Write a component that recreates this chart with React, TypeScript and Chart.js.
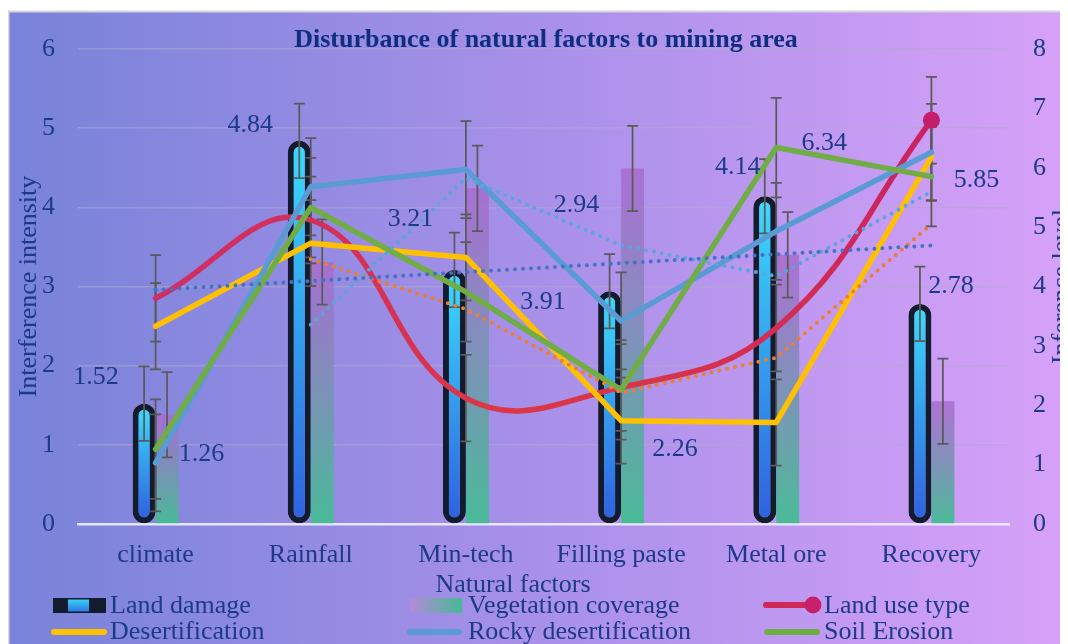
import { useEffect, useRef } from 'react';
import { Chart, registerables } from 'chart.js';

Chart.register(...registerables);

// ---- data ----
const categories = ['climate', 'Rainfall', 'Min-tech', 'Filling paste', 'Metal ore', 'Recovery'];
const seriesNames = ['Land damage', 'Vegetation coverage', 'Land use type', 'Desertification', 'Rocky desertification', 'Soil Erosion'];

// bars, left axis (Interference intensity)
const landDamage = [1.52, 4.84, 3.21, 2.94, 4.14, 2.78];
const vegetationCoverage = [1.38, 3.31, 4.24, 4.49, 3.4, 1.55];

// lines, right axis (Inference level)
const landUseType = [3.8, 5.12, 2.12, 2.3, 3.3, 6.8];
const desertification = [3.33, 4.73, 4.49, 1.74, 1.71, 6.18];
const rockyDesertification = [1.03, 5.68, 5.97, 3.42, 4.93, 6.26];
const soilErosion = [1.26, 5.33, 3.91, 2.26, 6.34, 5.85];

const intensityTicks = [0, 1, 2, 3, 4, 5, 6];
const levelTicks = [0, 1, 2, 3, 4, 5, 6, 7, 8];

// ---- label placement (pixel offsets from the mark) ----
const landDamageLabelOffsets: ([number, number] | null)[] = [[-48, -29], [-49, -18], [-44, -53], [-33, -88], [-27, -31], [31, -20]];
const soilErosionLabelOffsets: ([number, number] | null)[] = [[46, 3], null, [77, 8], [54, 57], [48, -7], [45, 1]];

// ---- helpers ----
const mean = (v: number[]) => v.reduce((a, b) => a + b, 0) / v.length;
const standardError = (v: number[]) => {
  const m = mean(v);
  const sd = Math.sqrt(v.reduce((a, b) => a + (b - m) ** 2, 0) / (v.length - 1));
  return sd / Math.sqrt(v.length);
};
const movingAverage = (v: number[], period: number) =>
  v.map((_, i) => (i < period - 1 ? null : mean(v.slice(i - period + 1, i + 1))));
const linearTrend = (v: number[]) => {
  const xs = v.map((_, i) => i + 1);
  const mx = mean(xs);
  const my = mean(v);
  let sxy = 0;
  let sxx = 0;
  xs.forEach((x, i) => {
    sxy += (x - mx) * (v[i] - my);
    sxx += (x - mx) ** 2;
  });
  const b = sxy / sxx;
  const a = my - b * mx;
  return xs.map((x) => a + b * x);
};

const serif = '"Liberation Serif", "Times New Roman", serif';
const textColor = '#1D3A87';
const titleColor = '#0E2E7F';
const errorColor = '#5A5A5A';
const darkBar = '#131B2E';

const verticalBarFill = (top: string, bottom: string, inset: number) => (ctx: any) => {
  const chart = ctx.chart;
  const scale = chart.scales && chart.scales.y;
  if (!scale || ctx.type !== 'data' || typeof ctx.raw !== 'number') return bottom;
  const yTop = scale.getPixelForValue(ctx.raw) + inset;
  const yBot = scale.getPixelForValue(0) - inset;
  if (!isFinite(yTop) || !isFinite(yBot) || yBot - yTop < 1) return bottom;
  const g = chart.ctx.createLinearGradient(0, yTop, 0, yBot);
  g.addColorStop(0, top);
  g.addColorStop(1, bottom);
  return g;
};

const landUseStroke = (ctx: any) => {
  const area = ctx.chart.chartArea;
  if (!area) return '#D5304E';
  const g = ctx.chart.ctx.createLinearGradient(area.left, 0, area.right, 0);
  g.addColorStop(0, '#CC2E6A');
  g.addColorStop(0.25, '#D2305C');
  g.addColorStop(0.45, '#DB3747');
  g.addColorStop(0.62, '#D83449');
  g.addColorStop(0.8, '#D02A58');
  g.addColorStop(1, '#C31D6C');
  return g;
};

const errorSeries = [landDamage, vegetationCoverage, landUseType, desertification, rockyDesertification, soilErosion];

function drawErrorBars(chart: any) {
  const ctx = chart.ctx;
  ctx.save();
  ctx.strokeStyle = errorColor;
  ctx.lineWidth = 1.75;
  errorSeries.forEach((values, di) => {
    const meta = chart.getDatasetMeta(di);
    const scale = chart.scales[meta.yAxisID];
    const se = standardError(values);
    const span = scale.getPixelForValue(0) - scale.getPixelForValue(se);
    meta.data.forEach((el: any, i: number) => {
      const x = el.x;
      const yc = scale.getPixelForValue(values[i]);
      const y1 = yc - span;
      const y2 = yc + span;
      ctx.beginPath();
      ctx.moveTo(x, y1);
      ctx.lineTo(x, y2);
      ctx.moveTo(x - 5.5, y1);
      ctx.lineTo(x + 5.5, y1);
      ctx.moveTo(x - 5.5, y2);
      ctx.lineTo(x + 5.5, y2);
      ctx.stroke();
    });
  });
  ctx.restore();
}

function drawValueLabels(chart: any, di: number, values: number[], offsets: ([number, number] | null)[]) {
  const ctx = chart.ctx;
  const meta = chart.getDatasetMeta(di);
  ctx.save();
  ctx.font = `26px ${serif}`;
  ctx.fillStyle = textColor;
  ctx.textAlign = 'center';
  ctx.textBaseline = 'alphabetic';
  meta.data.forEach((el: any, i: number) => {
    const off = offsets[i];
    if (!off) return;
    ctx.fillText(values[i].toFixed(2), el.x + off[0], el.y + off[1] + 9);
  });
  ctx.restore();
}

function drawLegend(chart: any) {
  const ctx = chart.ctx;
  ctx.save();
  ctx.font = `26px ${serif}`;
  ctx.fillStyle = textColor;
  ctx.textAlign = 'left';
  ctx.textBaseline = 'alphabetic';

  // Land damage swatch
  ctx.fillStyle = darkBar;
  ctx.fillRect(45, 590, 53, 15);
  const lg = ctx.createLinearGradient(0, 591, 0, 604);
  lg.addColorStop(0, '#3AD6F8');
  lg.addColorStop(1, '#2F72E0');
  ctx.fillStyle = lg;
  ctx.fillRect(60, 591.5, 21, 12);

  // Vegetation coverage swatch
  const vg = ctx.createLinearGradient(402, 0, 454, 0);
  vg.addColorStop(0, '#B48AD8');
  vg.addColorStop(1, '#47B996');
  ctx.fillStyle = vg;
  ctx.fillRect(402, 590, 52, 15);

  const lineSwatch = (x1: number, x2: number, y: number, color: string) => {
    ctx.beginPath();
    ctx.strokeStyle = color;
    ctx.lineWidth = 6;
    ctx.lineCap = 'round';
    ctx.moveTo(x1, y);
    ctx.lineTo(x2, y);
    ctx.stroke();
  };
  lineSwatch(758, 804, 597, '#D02858');
  ctx.beginPath();
  ctx.fillStyle = '#C8206A';
  ctx.arc(805, 597, 8.5, 0, Math.PI * 2);
  ctx.fill();
  lineSwatch(46, 96, 624, '#FFC000');
  lineSwatch(402, 451, 624, '#5B9BD5');
  lineSwatch(759, 809, 624, '#70AD47');

  ctx.fillStyle = textColor;
  ctx.fillText(seriesNames[0], 102, 605);
  ctx.fillText(seriesNames[1], 460, 605);
  ctx.fillText(seriesNames[2], 816, 605);
  ctx.fillText(seriesNames[3], 102, 631);
  ctx.fillText(seriesNames[4], 460, 631);
  ctx.fillText(seriesNames[5], 816, 631);
  ctx.restore();
}

const decorPlugin = {
  id: 'decor',
  beforeDraw(chart: any) {
    const { ctx, width, height } = chart;
    ctx.save();
    const g = ctx.createLinearGradient(0, 0, width, 0);
    g.addColorStop(0, '#7883D9');
    g.addColorStop(0.5, '#A890E9');
    g.addColorStop(1, '#D7A1F9');
    ctx.fillStyle = g;
    ctx.fillRect(0, 4, width, height - 4);
    ctx.fillStyle = '#D6D6DC';
    ctx.fillRect(0, 2.5, width, 2);
    ctx.fillRect(0, 2.5, 1.5, height);
    ctx.restore();
  },
  // error bars go on top of the bars but under the lines
  afterDatasetDraw(chart: any, args: any) {
    if (args.index === 0) drawErrorBars(chart);
  },
  afterDatasetsDraw(chart: any) {
    drawValueLabels(chart, 0, landDamage, landDamageLabelOffsets);
    drawValueLabels(chart, 5, soilErosion, soilErosionLabelOffsets);
  },
  afterDraw(chart: any) {
    const { ctx, chartArea } = chart;
    const midY = (chartArea.top + chartArea.bottom) / 2;
    ctx.save();
    ctx.fillStyle = titleColor;
    ctx.font = `bold 26px ${serif}`;
    ctx.textAlign = 'center';
    ctx.textBaseline = 'alphabetic';
    ctx.fillText('Disturbance of natural factors to mining area', 538, 39);

    ctx.fillStyle = textColor;
    ctx.font = `26px ${serif}`;
    ctx.fillText('Natural factors', 505, 584);

    ctx.save();
    ctx.translate(28, midY);
    ctx.rotate(-Math.PI / 2);
    ctx.fillText('Interference intensity', 0, 0);
    ctx.restore();

    ctx.save();
    ctx.translate(1061, midY);
    ctx.rotate(-Math.PI / 2);
    ctx.fillText('Inference level', 0, 0);
    ctx.restore();
    ctx.restore();

    drawLegend(chart);
  },
};

export default function App() {
  const canvasRef = useRef<HTMLCanvasElement | null>(null);

  useEffect(() => {
    const canvas = canvasRef.current;
    if (!canvas) return;

    const lineBase = {
      type: 'line' as const,
      yAxisID: 'y1',
      borderWidth: 5.5,
      borderJoinStyle: 'round' as const,
      borderCapStyle: 'round' as const,
      pointRadius: 0,
      fill: false,
      tension: 0,
    };
    const dotted = {
      type: 'line' as const,
      borderWidth: 4,
      borderDash: [0, 8],
      borderCapStyle: 'round' as const,
      pointRadius: 0,
      fill: false,
      tension: 0,
    };

    const chart = new Chart(canvas, {
      type: 'bar',
      data: {
        labels: categories,
        datasets: [
          {
            type: 'bar',
            label: seriesNames[0],
            data: landDamage,
            yAxisID: 'y',
            order: 19,
            backgroundColor: verticalBarFill('#3AD9FA', '#2F62E0', 6),
            borderColor: darkBar,
            borderWidth: 6,
            borderRadius: 12,
            borderSkipped: false,
            categoryPercentage: 0.296,
            barPercentage: 1,
          },
          {
            type: 'bar',
            label: seriesNames[1],
            data: vegetationCoverage,
            yAxisID: 'y',
            order: 20,
            backgroundColor: verticalBarFill('rgba(170,106,208,0.85)', 'rgba(70,188,150,0.97)', 0),
            borderWidth: 0,
            categoryPercentage: 0.296,
            barPercentage: 1,
          },
          {
            ...lineBase,
            label: seriesNames[2],
            data: landUseType,
            order: 8,
            borderColor: landUseStroke,
            tension: 0.42,
            pointRadius: [0, 0, 0, 0, 0, 8.5],
            pointBackgroundColor: '#C31D6C',
            pointBorderWidth: 0,
          },
          { ...lineBase, label: seriesNames[3], data: desertification, order: 7, borderColor: '#FFC000' },
          { ...lineBase, label: seriesNames[4], data: rockyDesertification, order: 6, borderColor: '#5B9BD5' },
          { ...lineBase, label: seriesNames[5], data: soilErosion, order: 5, borderColor: '#70AD47' },
          { ...dotted, label: '2 per. Mov. Avg. (Land use type)', data: movingAverage(landUseType, 2), yAxisID: 'y1', order: 3, borderColor: '#ED7D31' },
          { ...dotted, label: '2 per. Mov. Avg. (Rocky desertification)', data: movingAverage(rockyDesertification, 2), yAxisID: 'y1', order: 2, borderColor: '#5AA6DC' },
          { ...dotted, label: 'Linear (Land damage)', data: linearTrend(landDamage), yAxisID: 'y', order: 1, borderColor: '#4472C4' },
        ] as any,
      },
      options: {
        animation: false,
        responsive: false,
        devicePixelRatio: 1,
        events: [],
        layout: { padding: { top: 41, left: 0, right: 0, bottom: 0 } },
        plugins: {
          legend: { display: false },
          title: { display: false },
          tooltip: { enabled: false },
        },
        scales: {
          x: {
            grid: { display: false, drawTicks: false },
            border: { display: true, color: 'rgba(236,234,248,0.95)', width: 2.5 },
            ticks: { font: { family: serif, size: 26 }, color: textColor, padding: 16, maxRotation: 0, autoSkip: false },
            afterFit: (s: any) => {
              s.height = 120;
            },
          },
          y: {
            position: 'left',
            min: intensityTicks[0],
            max: intensityTicks[intensityTicks.length - 1],
            afterBuildTicks: (s: any) => {
              s.ticks = intensityTicks.map((value) => ({ value }));
            },
            ticks: { font: { family: serif, size: 26 }, color: textColor, padding: 23 },
            grid: {
              drawTicks: false,
              lineWidth: 1.5,
              color: (c: any) => (c.tick && c.tick.value === 0 ? 'rgba(0,0,0,0)' : 'rgba(175,172,200,0.55)'),
            },
            border: { display: false },
            afterFit: (s: any) => {
              s.width = 70;
            },
          },
          y1: {
            position: 'right',
            min: levelTicks[0],
            max: levelTicks[levelTicks.length - 1],
            afterBuildTicks: (s: any) => {
              s.ticks = levelTicks.map((value) => ({ value }));
            },
            ticks: { font: { family: serif, size: 26 }, color: textColor, padding: 24 },
            grid: { display: false, drawTicks: false },
            border: { display: false },
            afterFit: (s: any) => {
              s.width = 59;
            },
          },
        },
      } as any,
      plugins: [decorPlugin],
    });

    return () => {
      chart.destroy();
    };
  }, []);

  return (
    <div style={{ width: 1060, height: 636 }}>
      <canvas ref={canvasRef} width={1060} height={636} style={{ display: 'block', width: 1060, height: 636 }} />
    </div>
  );
}
